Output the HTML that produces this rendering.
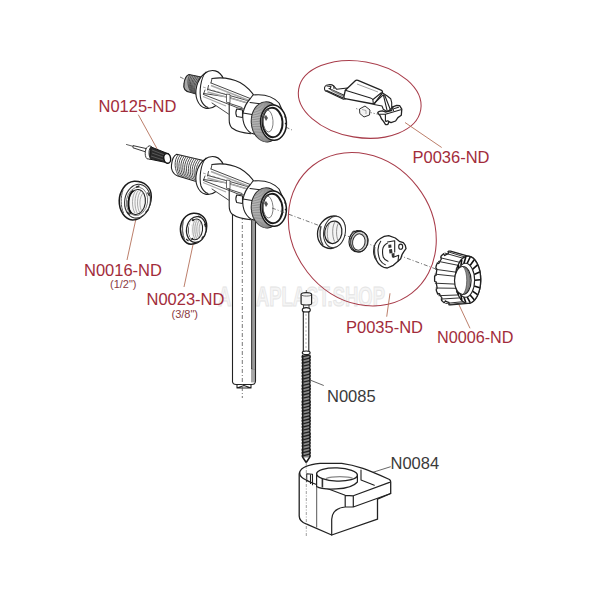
<!DOCTYPE html>
<html><head><meta charset="utf-8">
<style>
html,body{margin:0;padding:0;background:#fff;width:600px;height:600px;overflow:hidden}
svg{display:block}

.lbl{font-family:"Liberation Sans",sans-serif;font-size:16.5px;fill:#a22c3b}
.lblg{font-family:"Liberation Sans",sans-serif;font-size:16.5px;fill:#3a3a3a}
.sm{font-family:"Liberation Sans",sans-serif;font-size:11px;fill:#8a3a3f}
.ln{fill:none;stroke:#222;stroke-width:1.1;stroke-linejoin:round;stroke-linecap:round}
.lnf{fill:#fff;stroke:#222;stroke-width:1.1;stroke-linejoin:round;stroke-linecap:round}
.red{fill:none;stroke:#a83c4a;stroke-width:1.05}
.lead{fill:none;stroke:#b4705a;stroke-width:0.9}
.dash{fill:none;stroke:#555;stroke-width:0.8;stroke-dasharray:4 2 1 2}
</style></head><body>
<svg width="600" height="600" viewBox="0 0 600 600">
<!-- watermark -->
<text x="218" y="306.3" opacity="0.8" style="font-family:'Liberation Sans',sans-serif;font-weight:bold;font-size:27.6px;fill:#f3f3f3;stroke:#dedede;stroke-width:1" textLength="167" lengthAdjust="spacingAndGlyphs">ALCAPLAST.SHOP</text>
<!-- red ellipses -->
<ellipse class="red" cx="359.7" cy="99.4" rx="61.9" ry="38" transform="rotate(9.6 359.7 99.4)"/>
<ellipse class="red" cx="362.3" cy="229.3" rx="69.6" ry="80.7" transform="rotate(-37.8 362.3 229.3)"/>
<!-- leader lines -->
<path class="lead" d="M138.3 114.7 L157.3 149.2"/>
<path class="lead" d="M137 214 L127 260"/>
<path class="lead" d="M194 240 L184 287"/>
<path class="lead" d="M405 122.5 L441.7 147.5"/>
<path class="lead" d="M390 293.3 L386.7 316.7"/>
<path class="lead" d="M458.3 303.3 L470 328.3"/>
<path class="lead" style="stroke:#555" d="M310 380 L323.75 385.5"/>
<path class="lead" style="stroke:#555" d="M365.3 474.7 L390.7 466.7"/>


<!-- VALVE BODIES -->
<defs>
<g id="body">
<!-- flange -->
<ellipse cx="210.3" cy="89.5" rx="14" ry="19.3" transform="rotate(15 210.3 89.5)" fill="#fff" stroke="#222" stroke-width="1.1"/>
<path class="ln" d="M206 72 C 200.5 78 199 92 201 100 C 202.5 104 205 106.5 208 107.5"/>
<!-- body -->
<path fill="#fff" stroke="none" d="M212 78.5 C 222 77 232 78.5 240 82.5 C 247 86.5 252 92 256 98.5 L 262 110 L 258 132 L 250.8 133.7 C 242 133 236 131 232 128 C 229.5 125.5 229.2 123 229.2 120 L 229.2 114 L 212 103 L 203.5 94 L 207 88 L 211 83 Z"/>
<path class="ln" d="M212 78.5 C 222 77 232 78.5 240 82.5 C 247 86.5 252 92 256 98.5"/>
<path class="ln" d="M229.2 96.5 L 229.2 120 C 229.2 123 229.5 125.5 232 128 C 236 131 242 133 250.8 133.7"/>
<path class="ln" style="stroke-width:0.9;stroke:#333" d="M211 83 L254 100 M208 89.5 L251 101.5 M203.5 93.5 L228 97 L250 104 M203.5 94.5 L228 104 L238 108 L255 111 M212 103 L228.5 114 M229.2 103.3 L242 107.5 M212 78.5 L211 83 M208.5 85.5 L207.5 90 M205 90 L203.5 94"/>
<path d="M211 85.5 L253 102" fill="none" stroke="#a8a8a8" stroke-width="1.5"/>
<path d="M207.5 92 L250 103.5" fill="none" stroke="#aaa" stroke-width="1.3"/>
<path d="M203 96.5 L226 106" fill="none" stroke="#aaa" stroke-width="1.2"/>
<path d="M203 87 L228 95" fill="none" stroke="#777" stroke-width="0.6" stroke-dasharray="3 2"/>
<path d="M226.5 94 L230 94.5 L230 102.8 L226.5 102.3 Z" fill="#fff" stroke="#444" stroke-width="0.8"/>
<path class="lnf" d="M236.7 109 L242.5 110 L242.5 117.5 L236.7 116.5 Q235 113 236.7 109 Z"/>
<!-- collar -->
<path class="lnf" d="M253 95 C 262 94 272 95 279 103 L 284 114 L 270 139 L 250.8 133 C 244 128.5 242 120 243 113 C 244.5 106 247 102 250 99 Z"/>
<path class="ln" d="M250 102.5 L262 104 M243 113 L252 114.5"/>
<!-- nut -->
<ellipse cx="266.5" cy="121.9" rx="15.2" ry="20" transform="rotate(-4 266.5 121.9)" fill="#c4c4c4" stroke="#222" stroke-width="1.1"/>
<path d="M265.2 141.8 L272.4 140.2 M263.8 141.6 L271.2 140.0 M262.5 141.2 L270.1 139.7 M261.2 140.6 L269.0 139.2 M259.9 139.9 L267.9 138.6 M258.7 139.1 L266.9 137.8 M257.6 138.1 L265.9 136.9 M256.5 137.0 L265.0 135.9 M255.5 135.7 L264.2 134.8 M254.6 134.4 L263.4 133.7 M253.8 132.9 L262.7 132.4 M253.1 131.4 L262.1 131.0 M252.5 129.8 L261.6 129.6 M252.0 128.1 L261.2 128.1 M251.7 126.4 L260.9 126.5 M251.4 124.6 L260.7 125.0 M251.3 122.8 L260.6 123.4 M251.3 121.0 L260.6 121.8 M251.4 119.2 L260.7 120.2 M251.7 117.4 L260.9 118.7 M252.0 115.7 L261.2 117.1 M252.5 114.0 L261.6 115.6 M253.1 112.4 L262.1 114.2 M253.8 110.9 L262.7 112.8 M254.6 109.4 L263.4 111.5 M255.5 108.1 L264.2 110.4 M256.5 106.8 L265.0 109.3 M257.6 105.7 L265.9 108.3 M258.7 104.7 L266.9 107.4 M259.9 103.9 L267.9 106.6 M261.2 103.2 L269.0 106.0 M262.5 102.6 L270.1 105.5 M263.8 102.2 L271.2 105.2 M265.2 102.0 L272.4 105.0" stroke="#7a7a7a" stroke-width="0.7" fill="none"/>
<ellipse cx="273.5" cy="122.6" rx="12.9" ry="17.7" transform="rotate(-4 273.5 122.6)" fill="#fff" stroke="#1a1a1a" stroke-width="1.5"/>
<ellipse cx="272.5" cy="122.5" rx="10" ry="14.7" transform="rotate(-4 272.5 122.5)" fill="#fff" stroke="#1a1a1a" stroke-width="1.9"/>
<ellipse cx="268" cy="121" rx="5" ry="11" transform="rotate(-4 268 121)" fill="none" stroke="#666" stroke-width="0.8"/>
<path d="M264 117 L266 115 L268 118 L266 121 Z" fill="#555"/>
<path d="M284.5 116.5 L286 118 M285 123 L286.5 124.5" stroke="#222" stroke-width="1.1"/>
</g>
</defs>

<!-- UPPER VALVE BODY -->
<path class="dash" d="M180 77 L292 130"/>
<path fill="#a8a8a8" stroke="#222" stroke-width="1.2" stroke-linejoin="round" d="M189 74.5 L201 77 L204 93 L196 94 L191 92.5 C 185 92 183 88 184 84 C 184.5 79 186 75.5 189 74.5 Z"/>
<path d="M190.2 74.7 C186.4 79.2 187.7 88.1 191.5 92.6 M191.8 75.1 C188.0 79.6 188.5 88.4 192.3 92.9 M193.5 75.4 C189.7 79.9 189.3 88.6 193.1 93.1 M195.2 75.8 C191.4 80.3 190.0 88.8 193.8 93.3 M196.8 76.1 C193.0 80.6 190.8 89.0 194.6 93.5 M198.5 76.5 C194.7 81.0 191.6 89.2 195.4 93.7 M200.2 76.8 C196.4 81.3 192.3 89.4 196.1 93.9" fill="none" stroke="#444" stroke-width="0.9"/>
<use href="#body"/>

<!-- LOWER VALVE BODY -->
<!-- tube -->
<path class="lnf" d="M232.5 214 L232.5 382 Q233 384.5 236 384.5 L252 384.5 Q255.5 384.5 255.5 381 L255.5 216"/>
<path class="ln" d="M251.5 369 L255.5 369 M252 370 L252 382 M254 370 L254 382" style="stroke-width:0.8"/>
<rect x="252.2" y="217" width="2.8" height="152" fill="#999"/>
<path d="M251.7 217 L251.7 369" stroke="#2a2a2a" stroke-width="1.1"/>
<path class="ln" d="M237 384.5 L237 388 L251 388 L251 384.5 M237 388 L244 385.5 L251 388"/>
<path class="dash" d="M242.3 216 L242.3 398"/>
<!-- thread stub -->
<path class="lnf" d="M176.7 154.3 L202.3 160.2 L203 178 L195.3 181.2 L177.8 176 C 172 174 171 168 171.5 165 C 172 160 174 155.5 176.7 154.3 Z"/>
<g fill="none" stroke="#444" stroke-width="0.95">
<path d="M178.3 154.7 C173.5 160.2 174.4 170.8 179.2 176.3"/>
<path d="M180.3 155.1 C175.5 160.6 176.2 171.3 181.0 176.8"/>
<path d="M182.3 155.6 C177.5 161.1 177.9 171.7 182.7 177.2"/>
<path d="M184.4 156.1 C179.6 161.6 179.7 172.1 184.5 177.6"/>
<path d="M186.4 156.5 C181.6 162.0 181.5 172.6 186.3 178.1"/>
<path d="M188.4 157.0 C183.6 162.5 183.2 173.0 188.0 178.5"/>
<path d="M190.4 157.5 C185.6 163.0 185.0 173.4 189.8 178.9"/>
<path d="M192.4 157.9 C187.6 163.4 186.8 173.9 191.6 179.4"/>
<path d="M194.4 158.4 C189.6 163.9 188.5 174.3 193.3 179.8"/>
<path d="M196.5 158.8 C191.7 164.3 190.3 174.7 195.1 180.2"/>
<path d="M198.5 159.3 C193.7 164.8 192.1 175.2 196.9 180.7"/>
<path d="M200.5 159.8 C195.7 165.3 193.8 175.6 198.6 181.1"/>
</g>
<use href="#body" transform="translate(0 86)"/>

<!-- PIN N0125 -->
<g id="pin">
<path d="M126.1 144.4 L146 150" stroke="#333" stroke-width="0.8" fill="none"/>
<path d="M133 145.6 L146 148.5 L146 152 L133 147.8 Z" fill="#fff" stroke="#222" stroke-width="0.9"/>
<path d="M150.4 146.7 L168.8 154 L165.1 162.3 L149.5 159.1 Z" fill="#2a2a2a" stroke="#111" stroke-width="1"/>
<path d="M149.5 145.8 C 145 146.5 143.8 156 147 158.8 L 151 159.3 C 148 156 148.5 148 151.5 146.5 Z" fill="#fff" stroke="#222" stroke-width="0.9"/>
<path d="M152 150 L166 155.5 M152 153 L166 158 M151 156 L165 160.5" stroke="#777" stroke-width="0.6" fill="none"/>
<ellipse cx="167.2" cy="158.4" rx="3.4" ry="4.9" transform="rotate(-10 167.2 158.4)" fill="#fff" stroke="#111" stroke-width="1.4"/>
</g>

<!-- RING N0016 -->
<g id="r16">
<path d="M134.2 181.3 C 125 182 119.5 192 119.2 200.5 C 119 211 125 219.5 132.5 220 C 143 220 151 208 151.3 196.7 C 151.5 187 144 181 134.2 181.3 Z" fill="#fff" stroke="#1a1a1a" stroke-width="1.5"/>
<path d="M123 190 C 120.5 197 120.5 206 123.5 213" stroke="#555" stroke-width="1" fill="none"/>
<ellipse cx="137.5" cy="201.2" rx="12.8" ry="17" transform="rotate(10 137.5 201.2)" fill="#fff" stroke="#333" stroke-width="1.1"/>
<ellipse cx="137" cy="201.4" rx="10.6" ry="14.3" transform="rotate(10 137 201.4)" fill="#fff" stroke="#666" stroke-width="0.8"/>
<ellipse cx="136.8" cy="202" rx="8.6" ry="12.6" transform="rotate(8 136.8 202)" fill="#f6f6f6" stroke="#222" stroke-width="1.1"/>
<path d="M133.5 190.5 C 127.5 194 127 209 131.5 213.5" stroke="#111" stroke-width="1.8" fill="none"/>
<g stroke="#888" stroke-width="0.7" fill="none">
<path d="M136 190.5 C 131.5 195 131.5 208 135 213"/><path d="M138.5 190.5 C 134 195 134 208 137.5 213.5"/><path d="M141 191 C 136.5 195.5 136.5 208 140 213"/><path d="M143.5 192.5 C 139 197 139 207 142 211.5"/>
</g>
<path d="M136 187.2 L139.5 185.8 M147.5 192.5 L149.5 196 M145.5 212.5 L148.5 209.5 M127 212 L130 214.5" stroke="#222" stroke-width="1.3" fill="none"/>
</g>

<!-- RING N0023 -->
<g id="r23">
<path d="M193.5 213.3 C 185 214 180.5 222 180.4 229 C 180.4 237 185 244 191 244.2 C 200 244 206.5 236 206.7 226 C 206.8 218 201 213 193.5 213.3 Z" fill="#fff" stroke="#1a1a1a" stroke-width="1.5"/>
<path d="M183.2 221 C 182 227 182.3 235 184.5 239.5" stroke="#555" stroke-width="0.9" fill="none"/>
<ellipse cx="196.3" cy="229.5" rx="9.8" ry="13" transform="rotate(8 196.3 229.5)" fill="#fff" stroke="#222" stroke-width="1.2"/>
<ellipse cx="195.6" cy="229.4" rx="7" ry="10.4" transform="rotate(8 195.6 229.4)" fill="#f2f2f2" stroke="#222" stroke-width="1"/>
<g stroke="#8a8a8a" stroke-width="0.7" fill="none"><path d="M195.5 219.5 C 192 223.5 192 234.5 195 239"/><path d="M197.5 219.5 C 194 223.5 194 234.5 197 239"/><path d="M199.5 220 C 196 224 196 234 199 238.5"/><path d="M201.5 221 C 198.5 225 198.5 233 200.5 236.5"/></g>
<path d="M193.5 219.5 C 189 223 188.5 235 192.5 239.5" stroke="#111" stroke-width="1.9" fill="none"/>
<path d="M198 216 L200.5 217.2 M204.5 224 L205.5 227 M201.5 238.5 L203.5 236 M186 239 L188.5 241" stroke="#222" stroke-width="1.1" fill="none"/>
</g>
<path d="M192.5 221 C 189.5 224 189 234 192 238" stroke="#fff" stroke-width="2.5" fill="none"/>
<path d="M183 222 C 182 228 182.5 235 184.5 239 M199 216 L201 217" stroke="#555" stroke-width="0.8" fill="none"/>
</g>

<!-- LEVER P0036 -->
<g id="lever">
<!-- arm -->
<path class="lnf" d="M328.3 84.8 C 325.5 84.8 324 87 324.6 89.5 C 325 91 326 91.5 327 91.5 L 343.5 99.3 L 346 98.7 L 347.3 88 L 336.7 89.3 L 333.8 86 C 332 84.5 330 84.5 328.3 84.8 Z"/>
<path class="ln" d="M326.7 90.5 L343.3 98 M329 88.5 L 344.5 95.5 M333.8 86 L334 88.5 M327 86 L331 86.5 L330 89"/>
<path d="M331 90 L344 96.5" stroke="#888" stroke-width="1.4" fill="none"/>
<!-- strut -->
<path class="lnf" d="M381 92 L387.3 96 L390.7 98.7 L391.7 102.7 L391.7 108 L387.5 112 L383.3 109.3 L382 106 L374 104.5 Z"/>
<path class="ln" d="M383.3 94.7 L387.3 111.3 M384.7 95.3 L390 108.7"/>
<!-- block -->
<path class="lnf" style="stroke-width:1.3" d="M355.3 80.7 C 356 80 357 80 358 80.3 L 380.5 89.8 C 382.5 90.5 383 92 382 93.5 L 374.5 103.3 L 373.3 104 L 345 98.7 C 344 98.5 343.8 97 344 96 L 345.3 90.3 L 355.3 80.7 Z"/>
<path class="ln" d="M345.3 90.3 L 370.5 98 C 372 98.5 373 99 373 100.5 L 373.3 104 M373 99.5 L 381.3 92.7 M374.7 102.8 L382.7 95.3"/>
<path d="M357 84 L378 92" stroke="#777" stroke-width="0.7" fill="none"/>
<!-- clip -->
<path class="lnf" style="stroke-width:1.3" d="M377.7 113 C 378 111.5 380 110.8 382.5 110.8 L 385.4 112 L 391.6 110.5 L 392.75 106.8 L 396.7 105.4 L 399.6 105.7 L 401.8 109.1 L 401.3 115.3 L 397.9 117.6 L 395.6 121 L 391 122.7 L 388.8 121.6 L 388.2 123.9 C 387 124.8 386 124.8 385.4 124.4 L 383.7 121.6 L 381.4 118.75 L 380.25 115.9 Z"/>
<path class="ln" d="M379.7 114.2 L385.4 114.2 L400.7 109.7 M385.4 114.2 L385.4 121 M392.75 106.8 L393.5 110.5 M394.5 108.5 L398.5 107.3 M386 121.5 C 387 120.5 388.5 120.8 388.8 121.6"/>
<!-- small nut -->
<path d="M359.5 109 L365 106 L370 110 L369.5 115 L364 117 L359.8 113.5 Z" fill="#f4f4f4" stroke="#333" stroke-width="1"/>
<path d="M362 109.5 L366 110.5 L366 114" stroke="#777" stroke-width="0.6" fill="none"/>
<path d="M356 108.5 L 359 109.5 M 370.5 112.5 L 378.5 114.5" stroke="#666" stroke-width="0.7" stroke-dasharray="1.5 1.5" fill="none"/>
</g>

<!-- P0035 PARTS -->
<path class="dash" d="M272 208 L460 278"/>
<g id="p35">
<!-- washer -->
<path d="M334 216 C 324 216.5 317.5 226 317.5 234 C 317.5 242 322.5 248.5 331 248.5 C 339 248.5 345 238 345 228 C 345 221 340 216 334 216 Z" fill="#fff" stroke="#222" stroke-width="1.3"/>
<path d="M321 226 C 319.5 232 320 240 323 245" stroke="#444" stroke-width="1.4" fill="none"/>
<ellipse cx="334.5" cy="232" rx="10.8" ry="15.8" transform="rotate(10 334.5 232)" fill="#fff" stroke="#333" stroke-width="1"/>
<ellipse cx="333.3" cy="232.3" rx="8.6" ry="11.3" transform="rotate(10 333.3 232.3)" fill="#f4f4f4" stroke="#222" stroke-width="1.2"/>
<path d="M331 221.5 C 327 225 326 236 329 242 M335 222 C 332 226 332 236 334.5 241.5 M338.5 223 C 336 227 336 236 338 240.5" stroke="#666" stroke-width="0.7" fill="none"/>
<!-- small ring -->
<path d="M356 231 C 351 232 349 238 349 242 C 349 248 353 252 358 252 C 364 252 368 246 368 240.5 C 368 234 363 230.5 356 231 Z" fill="#fff" stroke="#222" stroke-width="1.2"/>
<ellipse cx="359.2" cy="241.5" rx="8.6" ry="10.4" transform="rotate(10 359.2 241.5)" fill="#ccc" stroke="#222" stroke-width="1.1"/>
<ellipse cx="358.8" cy="242" rx="6.2" ry="8.2" transform="rotate(10 358.8 242)" fill="#fff" stroke="#333" stroke-width="1"/>
<path d="M352 232.5 L353.5 231 L355.5 231.5 L357 230.5 L359 231 L361 231 L363 232" stroke="#222" stroke-width="1" fill="none"/>
<path d="M350.5 238 C 350 242 350.5 247 352.5 249.5" stroke="#555" stroke-width="1" fill="none"/>
<!-- holder -->
<path class="lnf" style="stroke-width:1.3" d="M373.7 252 C 373.5 246 376 241 380 238.7 C 383 236.5 386 235.7 388.7 235.7 L 395.3 238 L 399.3 241.3 L 403.3 242.7 L 405.3 245.3 L 406 248.7 L 404 251.3 L 402 254.7 L 400.7 258.7 L 398 261.3 L 393.3 265.3 L 387.3 268 C 385 268 383 267.3 381.3 266 C 379 264.5 377.5 262.5 376.7 260.7 C 374.7 258 373.8 255 373.7 252 Z"/>
<path class="ln" d="M380.7 241.3 C 378.5 244.5 377.8 247.5 378 250.7 C 378.2 254 378.8 257.5 380 260 C 381.5 262.5 383.3 264 385.3 264.7 M387.3 243.3 C 384.5 244.8 383 247 382.7 249.3 C 382.4 252 382.6 255 383.3 257.3 C 384.3 259.5 386 260.7 388 261.3 M394.7 240.7 L394.7 252 M393.3 257.3 L398.7 255.3 L398 261.3 M387.5 242 L 394.7 240.7"/>
<path d="M374.8 247 C 374.3 251 374.5 256 376.5 259.5" stroke="#444" stroke-width="1.2" fill="none"/>
<ellipse cx="400.7" cy="246.7" rx="2" ry="2.6" fill="#fff" stroke="#222" stroke-width="1.1"/>
<path d="M388.3 244.8 L391.2 244.5 L391.5 247.5 L388.5 248 Z M389 249.5 L392 249 L392.5 253 L389.5 253.5 Z M391.5 253.5 L394.5 253 L394.5 257 L392 257.5 Z" fill="#333"/>
</g>

<!-- NUT N0006 -->
<g id="n6">
<path d="M450.5 251.1 L450.2 251.1 L450.0 251.1 L449.7 251.1 L449.5 251.1 L449.2 251.1 L449.0 251.2 L448.7 251.2 L448.5 251.3 L448.4 252.5 L448.2 253.8 L448.0 253.9 L447.8 253.9 L447.6 254.0 L447.3 254.1 L447.1 254.2 L446.9 254.3 L446.7 254.4 L446.5 254.5 L446.2 254.6 L446.0 254.7 L445.8 254.8 L445.6 254.9 L445.4 255.1 L445.2 255.2 L445.0 255.4 L444.7 255.5 L444.4 255.2 L443.8 254.1 L443.5 253.8 L443.3 254.0 L443.0 254.2 L442.8 254.4 L442.6 254.6 L442.4 254.8 L442.2 255.0 L442.0 255.2 L441.7 255.5 L441.5 255.7 L441.3 256.0 L441.1 256.2 L440.9 256.4 L441.0 257.3 L441.3 258.6 L441.3 259.1 L441.1 259.4 L440.9 259.6 L440.7 259.9 L440.6 260.1 L440.4 260.4 L440.2 260.7 L440.1 261.0 L439.9 261.2 L439.8 261.5 L439.6 261.8 L439.5 262.1 L439.3 262.4 L439.2 262.7 L439.0 263.0 L438.9 263.3 L438.7 263.5 L437.9 263.1 L437.3 262.9 L437.2 263.2 L437.0 263.6 L436.9 263.9 L436.8 264.3 L436.6 264.6 L436.5 265.0 L436.4 265.4 L436.3 265.8 L436.2 266.1 L436.1 266.5 L436.0 266.9 L435.9 267.3 L435.9 267.8 L436.6 268.7 L436.9 269.3 L436.9 269.7 L436.8 270.1 L436.7 270.4 L436.6 270.8 L436.6 271.2 L436.5 271.5 L436.5 271.9 L436.4 272.3 L436.3 272.7 L436.3 273.0 L436.3 273.4 L436.2 273.8 L436.2 274.2 L436.1 274.5 L436.1 274.9 L436.1 275.3 L435.5 275.6 L434.6 275.9 L434.6 276.3 L434.6 276.7 L434.6 277.2 L434.6 277.6 L434.6 278.0 L434.6 278.4 L434.6 278.8 L434.6 279.3 L434.6 279.7 L434.6 280.1 L434.6 280.5 L434.6 281.0 L434.7 281.4 L435.4 281.6 L436.2 281.8 L436.2 282.2 L436.3 282.6 L436.3 283.0 L436.3 283.3 L436.4 283.7 L436.5 284.1 L436.5 284.5 L436.6 284.8 L436.6 285.2 L436.7 285.6 L436.8 285.9 L436.9 286.3 L436.9 286.7 L437.0 287.0 L437.1 287.4 L437.2 287.7 L437.0 288.3 L436.3 289.3 L436.2 289.9 L436.3 290.2 L436.4 290.6 L436.5 291.0 L436.6 291.4 L436.8 291.7 L436.9 292.1 L437.0 292.4 L437.2 292.8 L437.3 293.1 L437.5 293.5 L437.6 293.8 L437.7 294.2 L438.2 294.1 L439.0 293.5 L439.3 293.6 L439.5 293.9 L439.6 294.2 L439.8 294.5 L439.9 294.8 L440.1 295.0 L440.2 295.3 L440.4 295.6 L440.6 295.9 L440.7 296.1 L440.9 296.4 L441.1 296.6 L441.3 296.9 L441.4 297.1 L441.6 297.4 L441.8 297.6 L441.9 297.9 L441.7 299.3 L441.5 300.3 L441.7 300.5 L442.0 300.8 L442.2 301.0 L442.4 301.2 L442.6 301.4 L442.8 301.6 L443.0 301.8 L443.3 302.0 L443.5 302.2 L443.7 302.4 L443.9 302.6 L444.2 302.7 L444.5 302.6 L445.0 301.5 L445.4 300.9 L445.6 301.1 L445.8 301.2 L446.0 301.3 L446.2 301.4 L446.5 301.5 L446.7 301.6 L446.9 301.7 L447.1 301.8 L447.3 301.9 L447.6 302.0 L447.8 302.1 L448.0 302.1 L448.2 302.2 L448.5 302.3 L448.7 302.3 L448.9 302.4 L449.1 303.4 L449.3 304.8 L449.5 304.9 L449.7 304.9 L450.0 304.9 L450.2 304.9 L450.5 304.9 L468.0 303.4 L468.2 303.4 L468.4 303.4 L468.6 303.4 L468.8 303.4 L469.0 303.3 L469.2 303.3 L469.4 303.3 L469.6 303.2 L469.8 303.2 L470.0 303.1 L470.2 303.0 L470.4 303.0 L470.6 302.9 L470.8 302.8 L471.0 302.7 L471.2 302.7 L471.4 302.6 L471.5 302.5 L471.7 302.4 L471.9 302.2 L472.1 302.1 L472.3 302.0 L472.5 301.9 L472.7 301.7 L472.9 301.6 L473.0 301.5 L473.2 301.3 L473.4 301.2 L473.6 301.0 L473.8 300.8 L473.9 300.7 L474.1 300.5 L474.3 300.3 L474.5 300.1 L474.6 299.9 L474.8 299.7 L475.0 299.5 L475.1 299.3 L475.3 299.1 L475.5 298.9 L475.6 298.7 L475.8 298.4 L475.9 298.2 L476.1 298.0 L476.2 297.7 L476.4 297.5 L476.5 297.3 L476.7 297.0 L476.8 296.7 L477.0 296.5 L477.1 296.2 L477.3 296.0 L477.4 295.7 L477.5 295.4 L477.7 295.1 L477.8 294.8 L477.9 294.6 L478.0 294.3 L478.2 294.0 L478.3 293.7 L478.4 293.4 L478.5 293.1 L478.6 292.8 L478.7 292.4 L478.8 292.1 L478.9 291.8 L479.0 291.5 L479.1 291.2 L479.2 290.8 L479.3 290.5 L479.4 290.2 L479.5 289.8 L479.6 289.5 L479.7 289.2 L479.7 288.8 L479.8 288.5 L479.9 288.1 L479.9 287.8 L480.0 287.4 L480.1 287.1 L480.1 286.7 L480.2 286.4 L480.2 286.0 L480.3 285.7 L480.3 285.3 L480.4 284.9 L480.4 284.6 L480.5 284.2 L480.5 283.9 L480.5 283.5 L480.6 283.1 L480.6 282.8 L480.6 282.4 L480.6 282.0 L480.7 281.7 L480.7 281.3 L480.7 280.9 L480.7 280.5 L480.7 280.2 L480.7 279.8 L480.7 279.4 L480.7 279.1 L480.7 278.7 L480.7 278.3 L480.7 277.9 L480.6 277.6 L480.6 277.2 L480.6 276.8 L480.6 276.5 L480.5 276.1 L480.5 275.7 L480.5 275.4 L480.4 275.0 L480.4 274.7 L480.3 274.3 L480.3 273.9 L480.2 273.6 L480.2 273.2 L480.1 272.9 L480.1 272.5 L480.0 272.2 L479.9 271.8 L479.9 271.5 L479.8 271.1 L479.7 270.8 L479.7 270.4 L479.6 270.1 L479.5 269.8 L479.4 269.4 L479.3 269.1 L479.2 268.8 L479.1 268.4 L479.0 268.1 L478.9 267.8 L478.8 267.5 L478.7 267.2 L478.6 266.8 L478.5 266.5 L478.4 266.2 L478.3 265.9 L478.2 265.6 L478.0 265.3 L477.9 265.0 L477.8 264.8 L477.7 264.5 L477.5 264.2 L477.4 263.9 L477.3 263.6 L477.1 263.4 L477.0 263.1 L476.8 262.9 L476.7 262.6 L476.5 262.3 L476.4 262.1 L476.2 261.9 L476.1 261.6 L475.9 261.4 L475.8 261.2 L475.6 260.9 L475.5 260.7 L475.3 260.5 L475.1 260.3 L475.0 260.1 L474.8 259.9 L474.6 259.7 L474.5 259.5 L474.3 259.3 L474.1 259.1 L473.9 258.9 L473.8 258.8 L473.6 258.6 L473.4 258.4 L473.2 258.3 L473.0 258.1 L472.9 258.0 L472.7 257.9 L472.5 257.7 L472.3 257.6 L472.1 257.5 L471.9 257.4 L471.7 257.2 L471.5 257.1 L471.4 257.0 L471.2 256.9 L471.0 256.9 L470.8 256.8 L470.6 256.7 L470.4 256.6 L470.2 256.6 L470.0 256.5 L469.8 256.4 L469.6 256.4 L469.4 256.3 L469.2 256.3 L469.0 256.3 L468.8 256.2 L468.6 256.2 L468.4 256.2 L468.2 256.2 L468.0 256.2 Z" fill="#fff" stroke="#222" stroke-width="1.3" stroke-linejoin="round"/>
<path d="M448.2 304.7 L466.4 302.5 M445.4 303.5 L464.5 301.5 M440.6 299.1 L461.3 297.8 M464.5 301.5 Q458.9 300.5 461.3 297.8 M438.5 295.7 L459.9 294.9 M435.7 288.0 L458.0 288.3 M459.9 294.9 Q454.2 292.1 458.0 288.3 M434.9 283.2 L457.4 284.2 M434.7 274.1 L457.3 276.5 M457.4 284.2 Q452.3 280.4 457.3 276.5 M435.4 269.3 L457.8 272.4 M438.0 261.3 L459.5 265.6 M457.8 272.4 Q453.8 268.5 459.5 265.6 M440.0 257.7 L460.9 262.6 M444.6 253.0 L464.0 258.5 M460.9 262.6 Q458.4 259.7 464.0 258.5 M447.4 251.6 L465.9 257.3" stroke="#333" stroke-width="1" fill="none"/>
<ellipse cx="468" cy="279.8" rx="12.7" ry="23.6" fill="#fff" stroke="#222" stroke-width="1.3"/>
<path d="M474.6 280.2 L480.4 279.8 M474.1 286.0 L479.7 287.7 M472.5 291.1 L477.5 294.7 M470.1 294.9 L474.2 299.8 M467.1 296.9 L470.2 302.6 M463.9 296.9 L465.8 302.6 M460.9 294.9 L461.8 299.8 M458.5 291.1 L458.5 294.7 M456.9 286.0 L456.3 287.7 M456.4 280.2 L455.6 279.8 M456.9 274.4 L456.3 271.9 M458.5 269.3 L458.5 264.9 M460.9 265.5 L461.8 259.8 M463.9 263.5 L465.8 257.0 M467.1 263.5 L470.2 257.0 M470.1 265.5 L474.2 259.8 M472.5 269.3 L477.5 264.9 M474.1 274.4 L479.7 271.9" stroke="#111" stroke-width="1.6" fill="none"/>
<ellipse cx="465.5" cy="280.2" rx="9.1" ry="17.0" fill="#fff" stroke="#222" stroke-width="1.1"/>
<ellipse cx="462.8" cy="280.5" rx="8.3" ry="14" fill="#fff" stroke="#222" stroke-width="1.2"/>
<path d="M463 266.6 C 472 269 472.5 292 463 294.4 C 468 290 468 271 463 266.6 Z" fill="#8a8a8a" stroke="#444" stroke-width="0.7"/>
</g>

<!-- ROD N0085 -->
<g id="rod">
<path d="M306.3 290 L306.3 293" stroke="#333" stroke-width="0.8"/>
<path d="M301.1 294.6 C 301.1 292 311.6 292 311.6 294.6 L 311.6 303.5 C 311.6 305.5 301.1 305.5 301.1 303.5 Z" fill="#f6f6f6" stroke="#222" stroke-width="1.2"/>
<path d="M301.5 294.8 C 302 296.5 311 296.5 311.2 294.8" stroke="#444" stroke-width="0.8" fill="none"/>
<path d="M303.5 305 L 303.5 308 M 309 305 L 309 308" stroke="#333" stroke-width="0.9"/>
<ellipse cx="306.3" cy="310" rx="4" ry="2.4" fill="#fff" stroke="#222" stroke-width="1.2"/>
<rect x="303.3" y="312" width="5.5" height="39.5" fill="#fff" stroke="#222" stroke-width="1.1"/>
<path d="M306 314 L306 350" stroke="#888" stroke-width="0.6" stroke-dasharray="2 2"/>
<ellipse cx="306.2" cy="352.8" rx="3.9" ry="1.8" fill="#fff" stroke="#222" stroke-width="1.2"/>
<rect x="302.8" y="355" width="6.6" height="102.5" fill="#8a8a8a"/>
<path id="thr" d="M302.8 355 Q 301.8 356.6 302.8 358.2 Q 301.8 359.8 302.8 361.4 Q 301.8 363 302.8 364.6 Q 301.8 366.2 302.8 367.8 Q 301.8 369.4 302.8 371 Q 301.8 372.6 302.8 374.2 Q 301.8 375.8 302.8 377.4 Q 301.8 379 302.8 380.6 Q 301.8 382.2 302.8 383.8 Q 301.8 385.4 302.8 387 Q 301.8 388.6 302.8 390.2 Q 301.8 391.8 302.8 393.4 Q 301.8 395 302.8 396.6 Q 301.8 398.2 302.8 399.8 Q 301.8 401.4 302.8 403 Q 301.8 404.6 302.8 406.2 Q 301.8 407.8 302.8 409.4 Q 301.8 411 302.8 412.6 Q 301.8 414.2 302.8 415.8 Q 301.8 417.4 302.8 419 Q 301.8 420.6 302.8 422.2 Q 301.8 423.8 302.8 425.4 Q 301.8 427 302.8 428.6 Q 301.8 430.2 302.8 431.8 Q 301.8 433.4 302.8 435 Q 301.8 436.6 302.8 438.2 Q 301.8 439.8 302.8 441.4 Q 301.8 443 302.8 444.6 Q 301.8 446.2 302.8 447.8 Q 301.8 449.4 302.8 451 Q 301.8 452.6 302.8 454.2 Q 301.8 455.8 302.8 457.4 L 306.2 462.5" fill="none" stroke="#1a1a1a" stroke-width="1.6"/>
<use href="#thr" transform="translate(612.4 0) scale(-1 1)"/>
<g stroke="#222" stroke-width="1.3">
<path d="M303 356.6 L309.4 355 M303 359.8 L309.4 358.2 M303 363 L309.4 361.4 M303 366.2 L309.4 364.6 M303 369.4 L309.4 367.8 M303 372.6 L309.4 371 M303 375.8 L309.4 374.2 M303 379 L309.4 377.4 M303 382.2 L309.4 380.6 M303 385.4 L309.4 383.8 M303 388.6 L309.4 387 M303 391.8 L309.4 390.2 M303 395 L309.4 393.4 M303 398.2 L309.4 396.6 M303 401.4 L309.4 399.8 M303 404.6 L309.4 403 M303 407.8 L309.4 406.2 M303 411 L309.4 409.4 M303 414.2 L309.4 412.6 M303 417.4 L309.4 415.8 M303 420.6 L309.4 419 M303 423.8 L309.4 422.2 M303 427 L309.4 425.4 M303 430.2 L309.4 428.6 M303 433.4 L309.4 431.8 M303 436.6 L309.4 435 M303 439.8 L309.4 438.2 M303 443 L309.4 441.4 M303 446.2 L309.4 444.6 M303 449.4 L309.4 447.8 M303 452.6 L309.4 451 M303 455.8 L309.4 454.2"/>
</g>
</g>

<!-- FLOAT N0084 -->
<g id="float">
<path class="lnf" style="stroke-width:1.3" d="M299.7 472 C 301 468 308 464.5 320 463.3 L 341.7 463.3 C 356 465 368 470 389.5 479.5 Q 390.7 480.5 390.7 482 L 390.7 493.5 L 377.5 499.2 L 377.5 519.2 L 331.7 535 L 306.7 524.2 Q 299.2 521.5 299.2 516 L 299.2 474 Z"/>
<path class="ln" style="stroke-width:1.2" d="M299.7 472.5 C 299.5 476 301 478 312.5 483 L 345.2 495.3 L 353.3 495.8 L 389.5 482.4 M345.2 495.3 L345.2 507 L353.3 507 L390.7 493.5 M353.3 495.8 L353.3 507 M331.7 535 L331.7 519.2 C 332 513 336 508 345.2 507"/>
<path d="M316.7 486 L316.7 527.5" stroke="#444" stroke-width="0.9" fill="none"/>
<path d="M316.6 474.5 L 316.6 486.5 C 322 490 350 491 357.4 482 L 357.4 475.5 Z" fill="#fff" stroke="#222" stroke-width="1.2"/>
<path d="M322.4 477.5 L322.4 487.5" stroke="#333" stroke-width="1.6"/>
<ellipse cx="337" cy="474.5" rx="20.4" ry="6.6" transform="rotate(2 337 474.5)" fill="#fff" stroke="#222" stroke-width="1.4"/>
<path d="M326 478.5 C 332 476 348 476 353 478.5" stroke="#888" stroke-width="1.3" fill="none"/>
<path class="ln" d="M361 470 L361 480 L374.3 485.3 M306.7 473.8 L312.5 474.2 L312.5 484.8 M306.7 473.8 L306.7 481.5 M310.5 474.5 L310.5 483.5"/>
<path d="M306.3 463 L306.3 537.5" stroke="#777" stroke-width="0.7" stroke-dasharray="3 1.5 1 1.5" fill="none"/>
</g>


<!-- labels -->
<text class="lbl" x="98.5" y="111.5">N0125-ND</text>
<text class="lbl" x="412.5" y="163">P0036-ND</text>
<text class="lbl" x="84" y="275.7">N0016-ND</text>
<text class="sm" x="110" y="288">(1/2")</text>
<text class="lbl" x="146.5" y="305.3">N0023-ND</text>
<text class="sm" x="171.5" y="317.5">(3/8")</text>
<text class="lbl" x="346" y="333.3">P0035-ND</text>
<text class="lbl" x="437" y="343.3" textLength="76.5" lengthAdjust="spacingAndGlyphs">N0006-ND</text>
<text class="lblg" x="327" y="402">N0085</text>
<text class="lblg" x="390.5" y="469.3">N0084</text>
</svg>
</body></html>
